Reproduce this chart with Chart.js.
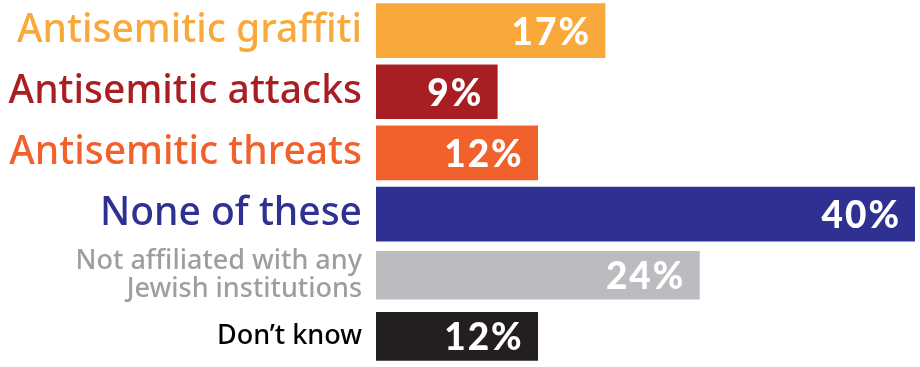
<!DOCTYPE html>
<html>
<head>
<meta charset="utf-8">
<script src="https://cdn.jsdelivr.net/npm/chart.js@4/dist/chart.umd.min.js"></script>
<style>
  html, body { margin: 0; padding: 0; background: #fff; }
  #wrap { width: 920px; height: 367px; }
</style>
</head>
<body>
<div id="wrap"><canvas id="bars" width="920" height="367"></canvas></div>
<script>
var categories = [
	"Antisemitic graffiti",
	"Antisemitic attacks",
	"Antisemitic threats",
	"None of these",
	["Not affiliated with any", "Jewish institutions"],
	"Don\u2019t know"
];
// main answers and the two smaller rows at the bottom
var mainValues = [17, 9, 12, 40, null, null];
var otherValues = [null, null, null, null, 24, 12];

var barColors = ["#f9a93b", "#a91e23", "#f1612b", "#2e3192", "#bbbcbf", "#231f20"];
var labelColors = ["#f9a93b", "#a91e23", "#f1612b", "#2e3192", "#9d9ea1", "#000000"];
var labelSizes = [39, 39, 39, 39, 27, 27];

var valueLabels = {
	id: "valueLabels",
	afterDatasetsDraw: function(chart) {
		var ctx = chart.ctx;
		ctx.save();
		ctx.fillStyle = "#ffffff";
		ctx.font = "900 37px Lato, 'Open Sans', sans-serif";
		ctx.letterSpacing = "2px";
		ctx.textAlign = "right";
		ctx.textBaseline = "middle";
		chart.data.datasets.forEach(function(ds, di) {
			chart.getDatasetMeta(di).data.forEach(function(bar, i) {
				if (ds.data[i] === null) return;
				ctx.fillText(ds.data[i] + "%", bar.x - 14, bar.y + 2);
			});
		});
		ctx.restore();
	}
};

var chart = new Chart(document.getElementById("bars").getContext("2d"), {
	type: "bar",
	data: {
		labels: categories,
		datasets: [
			{ data: mainValues, backgroundColor: barColors, barThickness: 54, grouped: false },
			{ data: otherValues, backgroundColor: barColors, barThickness: 48, grouped: false }
		]
	},
	options: {
		indexAxis: "y",
		responsive: false,
		animation: false,
		layout: { padding: { top: 0, right: 5, bottom: 0, left: 0 } },
		plugins: { legend: { display: false }, tooltip: { enabled: false } },
		scales: {
			x: { display: false, min: 0, max: 40 },
			y: {
				grid: { display: false, drawTicks: false },
				border: { display: false },
				afterFit: function(scale) {
					scale.width = 376;
					scale.paddingTop = 0;
					scale.paddingBottom = 0;
				},
				ticks: {
					padding: 14,
					color: function(c) { return labelColors[c.index]; },
					font: function(c) {
						return { family: "'Noto Sans', sans-serif", size: labelSizes[c.index], weight: 500, lineHeight: 1.04 };
					}
				}
			}
		}
	},
	plugins: [valueLabels]
});
</script>
</body>
</html>
